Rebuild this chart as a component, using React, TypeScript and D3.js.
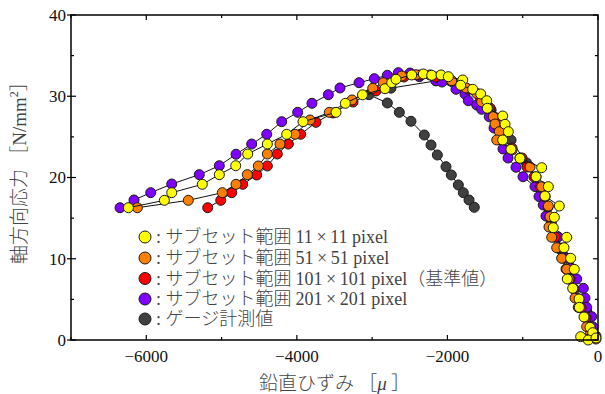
import React from "react";
import * as d3 from "d3";

// Stress–strain results: vertical strain [μ] vs axial stress [N/mm²]
type Pt = [number, number];

const subset11: Pt[] = [
  [-6238, 16.28], [-5760, 17.19], [-5662, 18.13], [-5256, 19.16], [-5030, 20.35],
  [-4812, 21.45], [-4653, 22.89], [-4392, 24.12], [-4135, 25.32], [-3918, 26.87],
  [-3480, 28.02], [-3356, 29.13], [-3128, 30.18], [-2829, 30.93], [-2740, 31.67],
  [-2683, 32.09], [-2474, 32.62], [-2320, 32.74], [-2209, 32.58], [-2085, 32.62],
  [-1988, 32.41], [-1797, 32.0], [-1824, 31.35], [-1664, 30.86], [-1558, 30.28],
  [-1478, 29.45], [-1470, 28.52], [-1266, 27.57], [-1235, 26.55], [-1191, 25.64],
  [-1266, 24.62], [-1156, 23.47], [-1036, 22.36], [-748, 21.21], [-823, 20.1],
  [-660, 18.87], [-704, 17.72], [-514, 16.49], [-580, 15.1], [-594, 13.82],
  [-416, 12.64], [-452, 11.36], [-363, 10.06], [-315, 8.7], [-408, 7.51],
  [-336, 6.36], [-252, 5.05], [-248, 4.02], [-186, 2.83], [-106, 1.56],
  [-70, 0.9], [-230, 0.41], [-129, 0.0], [-27, 0.25],
];

const subset51: Pt[] = [
  [-6119, 16.28], [-5442, 17.19], [-4990, 18.13], [-4808, 19.16], [-4658, 20.35],
  [-4512, 21.42], [-4392, 22.89], [-4224, 24.12], [-4024, 25.32], [-3825, 27.08],
  [-3569, 28.02], [-3267, 29.54], [-2992, 30.98], [-2852, 31.67], [-2607, 32.49],
  [-2417, 32.65], [-2231, 32.62], [-1943, 31.91], [-1753, 31.02], [-1611, 30.36],
  [-1545, 29.33], [-1461, 28.55], [-1391, 27.48], [-1368, 26.58], [-1311, 25.64],
  [-1345, 24.62], [-1142, 23.39], [-1036, 22.4], [-903, 21.29], [-823, 20.06],
  [-748, 18.87], [-704, 17.72], [-660, 16.49], [-638, 15.18], [-651, 13.91],
  [-615, 12.64], [-549, 11.36], [-482, 10.06], [-416, 8.7], [-385, 7.51],
  [-328, 6.36], [-305, 5.17], [-262, 4.02], [-173, 2.87], [-150, 1.64],
  [-106, 0.62], [-27, 0.12],
];

const subset101: Pt[] = [
  [-5184, 16.28], [-5011, 17.19], [-4865, 18.13], [-4719, 19.16], [-4533, 20.31],
  [-4392, 21.42], [-4260, 22.89], [-4113, 24.12], [-3949, 25.32], [-3746, 26.79],
  [-3520, 27.94], [-3254, 29.29], [-2949, 30.65], [-2789, 31.51], [-2577, 32.37],
  [-2364, 32.62], [-2152, 32.37], [-1939, 31.88], [-1727, 30.89], [-1567, 29.91],
  [-1434, 28.55], [-1355, 27.32], [-1315, 26.09], [-1275, 24.86], [-1142, 23.63],
  [-1009, 22.4], [-943, 21.29], [-850, 20.06], [-770, 18.83], [-704, 17.6],
  [-664, 16.37], [-638, 15.14], [-611, 13.91], [-571, 12.68], [-531, 11.32],
  [-478, 10.09], [-425, 8.74], [-372, 7.51], [-319, 6.28], [-266, 5.05],
  [-226, 3.94], [-159, 2.71], [-106, 1.48], [-40, 0.37],
];

const subset201: Pt[] = [
  [-6349, 16.28], [-6163, 17.23], [-5941, 18.13], [-5662, 19.2], [-5296, 20.35],
  [-5030, 21.45], [-4808, 22.86], [-4600, 24.12], [-4400, 25.32], [-4201, 26.87],
  [-3989, 28.02], [-3799, 29.13], [-3582, 30.19], [-3427, 31.02], [-3174, 31.67],
  [-2971, 32.16], [-2798, 32.58], [-2652, 32.9], [-2497, 32.86], [-2373, 32.41],
  [-2152, 31.91], [-2072, 31.75], [-1886, 30.86], [-1767, 30.28], [-1723, 29.45],
  [-1611, 28.92], [-1545, 28.39], [-1444, 27.48], [-1381, 26.09], [-1302, 24.62],
  [-1262, 23.51], [-1195, 22.4], [-1089, 21.26], [-996, 20.1], [-837, 18.89],
  [-784, 17.66], [-727, 16.62], [-691, 15.26], [-624, 13.91], [-531, 12.68],
  [-491, 11.32], [-425, 10.09], [-359, 8.86], [-283, 7.51], [-195, 6.36],
  [-173, 5.17], [-150, 4.02], [-84, 2.87], [-66, 1.6], [-27, 0.49],
];

const gauge: Pt[] = [
  [-150, 3.5], [-330, 7.5], [-480, 11.0], [-620, 14.5], [-760, 18.5],
  [-950, 21.8], [-1155, 24.6], [-1420, 28.3], [-1750, 30.8], [-2150, 31.9],
  [-2750, 31.0], [-3042, 30.19], [-2798, 29.17], [-2639, 28.02], [-2484, 26.92],
  [-2307, 25.23], [-2218, 24.0], [-2134, 22.77], [-2019, 21.33], [-1948, 20.31],
  [-1855, 19.08], [-1789, 18.13], [-1713, 17.23], [-1643, 16.33],
];

const seriesNames = [
  "サブセット範囲 11×11 pixel",
  "サブセット範囲 51×51 pixel",
  "サブセット範囲 101×101 pixel（基準値）",
  "サブセット範囲 201×201 pixel",
  "ゲージ計測値",
];
const seriesColors = ["#ffff00", "#ff7f00", "#ff0000", "#7f00ff", "#404040"];
const seriesData = [subset11, subset51, subset101, subset201, gauge];

const xMajorTicks = [-6000, -4000, -2000, 0];
const xMinorTicks = [-7000, -5000, -3000, -1000];
const yMajorTicks = [0, 10, 20, 30, 40];
const yMinorTicks = [5, 15, 25, 35];

const W = 605;
const H = 394;
const M = { left: 71, right: 598, top: 15, bottom: 340 };
const serif = "'Liberation Serif', 'Times New Roman', 'Noto Sans CJK JP', serif";
const cjk = "'Noto Sans CJK JP', sans-serif";

export default function App() {
  const x = d3.scaleLinear().domain([-7000, 0]).range([M.left, M.right]);
  const y = d3.scaleLinear().domain([0, 40]).range([M.bottom, M.top]);
  const line = d3
    .line<Pt>()
    .x((d) => x(d[0]))
    .y((d) => y(d[1]));

  // bottom layer first: gauge, then 201, 101, 51, 11 on top
  const drawOrder = [4, 3, 2, 1, 0];
  const fmt = (v: number) => (v < 0 ? "\u2212" + Math.abs(v) : String(v));
  const legendY = [237, 258, 278.5, 299, 319];

  return (
    <div style={{ position: "fixed", left: 0, top: 0 }}>
      <svg width={W} height={H} style={{ display: "block", background: "#fff" }}>
        {drawOrder.map((si) => (
          <g key={si}>
            <path d={line(seriesData[si]) ?? ""} fill="none" stroke="#111" strokeWidth={1} />
            {seriesData[si].map((d, i) => (
              <circle
                key={i}
                cx={x(d[0])}
                cy={y(d[1])}
                r={5}
                fill={seriesColors[si]}
                stroke="#1a1a1a"
                strokeWidth={1}
              />
            ))}
          </g>
        ))}

        {/* frame */}
        <rect
          x={M.left}
          y={M.top}
          width={M.right - M.left}
          height={M.bottom - M.top}
          fill="none"
          stroke="#000"
          strokeWidth={1.5}
        />

        {/* x ticks: inward on bottom and top */}
        {xMajorTicks.map((t) => (
          <g key={"xm" + t}>
            <line x1={x(t)} x2={x(t)} y1={M.bottom} y2={M.bottom - 5} stroke="#000" strokeWidth={1.2} />
            <line x1={x(t)} x2={x(t)} y1={M.top} y2={M.top + 5} stroke="#000" strokeWidth={1.2} />
            <text
              x={x(t)}
              y={362}
              textAnchor="middle"
              fontFamily={serif}
              fontSize={17}
              fill="#111"
            >
              {fmt(t)}
            </text>
          </g>
        ))}
        {xMinorTicks.map((t) => (
          <g key={"xn" + t}>
            <line x1={x(t)} x2={x(t)} y1={M.bottom} y2={M.bottom - 3} stroke="#000" strokeWidth={1.2} />
            <line x1={x(t)} x2={x(t)} y1={M.top} y2={M.top + 3} stroke="#000" strokeWidth={1.2} />
          </g>
        ))}

        {/* y ticks */}
        {yMajorTicks.map((t) => (
          <g key={"ym" + t}>
            <line x1={M.left - 4} x2={M.left + 5} y1={y(t)} y2={y(t)} stroke="#000" strokeWidth={1.2} />
            <line x1={M.right} x2={M.right - 5} y1={y(t)} y2={y(t)} stroke="#000" strokeWidth={1.2} />
            <text
              x={M.left - 5}
              y={y(t)}
              dy="0.35em"
              textAnchor="end"
              fontFamily={serif}
              fontSize={17}
              fill="#111"
            >
              {t}
            </text>
          </g>
        ))}
        {yMinorTicks.map((t) => (
          <g key={"yn" + t}>
            <line x1={M.left} x2={M.left + 3} y1={y(t)} y2={y(t)} stroke="#000" strokeWidth={1.2} />
            <line x1={M.right} x2={M.right - 3} y1={y(t)} y2={y(t)} stroke="#000" strokeWidth={1.2} />
          </g>
        ))}

        {/* axis titles */}
        <text
          x={(M.left + M.right) / 2}
          y={390}
          textAnchor="middle"
          fontFamily={cjk}
          fontWeight={300}
          fontSize={19}
          fill="#444"
        >
          鉛直ひずみ ［ 
          <tspan fontFamily={serif} fontStyle="italic">μ</tspan> ］
        </text>
        <text
          transform={`translate(26, 168) rotate(-90)`}
          textAnchor="middle"
          fontFamily={cjk}
          fontWeight={300}
          fontSize={19}
          fill="#444"
        >
          軸方向応力 ［
          <tspan fontFamily={serif}>N/mm</tspan>
          <tspan fontFamily={serif} fontSize={12} dy={-8}>2</tspan>
          <tspan dy={8}>］</tspan>
        </text>

        {/* legend */}
        {seriesNames.map((name, i) => (
          <g key={"lg" + i}>
            <circle cx={145} cy={legendY[i]} r={6} fill={seriesColors[i]} stroke="#1a1a1a" strokeWidth={1} />
            <text
              x={156}
              y={legendY[i]}
              dy="0.36em"
              fontFamily={cjk}
              fontWeight={300}
              fontSize={18}
              fill="#444"
            >
              <tspan fontFamily={serif}>: </tspan>
              {name.split(/(\d+×\d+ pixel)/).map((part, k) =>
                /\d+×\d+ pixel/.test(part) ? (
                  <tspan key={k} fontFamily={serif} fontSize={18}>
                    {part.replace("×", "\u2009×\u2009")}
                  </tspan>
                ) : (
                  <tspan key={k}>{part}</tspan>
                )
              )}
            </text>
          </g>
        ))}
      </svg>
    </div>
  );
}
